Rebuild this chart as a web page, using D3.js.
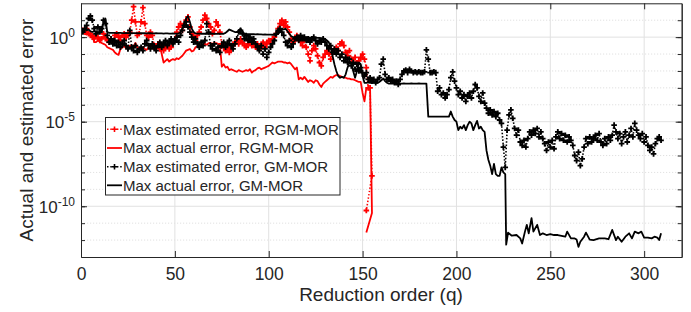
<!DOCTYPE html>
<html><head><meta charset="utf-8">
<script src="https://cdn.jsdelivr.net/npm/d3@7"></script>
<style>
body{margin:0;background:#fff}
text{font-family:"Liberation Sans",Arial,Helvetica,sans-serif;fill:#262626}
</style>
</head><body>
<svg id="c" width="691" height="312"></svg>
<script>
// ---------------- DATA ----------------
const xTicks = [0, 50, 100, 150, 200, 250, 300];
const yMajorExp = [0, -5, -10];
const yMinorExp = [1, 0, -1, -2, -3, -4, -5, -6, -7, -8, -9, -10, -11, -12];
const seriesNames = ["Max estimated error, RGM-MOR", "Max actual error, RGM-MOR",
                     "Max estimated error, GM-MOR", "Max actual error, GM-MOR"];

// RGM-MOR estimated error (log10 values), q = 1..154, then two tail points
const rgmEstQ = d3.range(1, 155).concat([155, 152]);
const rgmEstExp = [
 0.4,0.3,0.5,0.2,0.1,0.0,-0.1,0.1,0.0,-0.2,
 -0.1,0.2,0.0,-0.2,-0.3,-0.1,-0.3,0.1,0.2,0.0,
 -0.2,0.1,0.2,0.0,0.1,0.3,1.0,1.8,0.9,0.1,
 0.2,0.9,1.75,0.8,0.1,0.0,0.3,0.1,-0.5,-0.6,
 -0.4,-0.7,-0.5,-0.8,-0.6,-0.5,-0.7,-0.6,-0.3,-0.1,
 0.3,0.6,0.8,0.4,0.7,1.0,1.2,0.6,0.2,0.0,
 -0.2,0.1,0.3,0.6,1.0,1.3,1.1,0.8,0.6,0.2,
 0.4,0.9,0.7,0.3,-0.4,-0.6,-0.8,-0.6,-0.9,-0.7,
 -0.5,-0.3,-0.2,-0.4,-0.1,-0.3,-0.5,-0.6,-0.4,-0.2,
 -0.5,-0.3,-0.6,-0.4,-0.7,-0.5,-0.3,-0.6,-0.4,-0.2,
 -0.4,-0.1,0.0,0.2,0.5,0.8,1.0,0.7,0.9,0.6,
 0.3,-0.1,-0.3,-0.2,0.1,-0.1,-0.3,-0.5,-0.2,-0.6,
 -1.0,-1.4,-0.8,-0.5,-0.7,-1.1,-1.5,-1.7,-1.2,-1.0,
 -0.8,-1.0,-1.3,-0.9,-0.7,-0.6,-0.8,-0.4,-0.3,-0.5,
 -0.9,-1.1,-0.8,-1.3,-1.5,-1.2,-1.6,-1.4,-1.2,-1.0,
 -1.3,-1.8,-3.0,-3.0,
 -8.2,-10.25];

// RGM-MOR actual error (log10 values)
const rgmActQ = d3.range(1, 155).concat([155, 152]);
const rgmActExp = [
 0.25,0.2,0.15,0.2,0.25,0.2,-0.3,-0.3,-0.2,-0.25,
 -0.35,-0.4,-0.45,-0.6,-0.65,-0.7,-0.75,-0.9,-1.0,-1.05,
 -0.7,-0.6,-0.55,-0.65,-0.6,-0.5,-0.55,-0.55,-0.35,-0.6,
 -0.75,-0.65,-0.6,-0.7,-0.75,-0.6,-0.45,-0.6,-0.75,-0.6,
 -0.5,-0.45,-1.0,-1.5,-1.4,-1.3,-1.45,-1.35,-1.3,-1.35,
 -1.25,-1.3,-1.2,-1.1,-0.95,-0.8,-0.75,-0.7,-0.85,-0.8,
 -0.6,-0.55,-0.5,-0.5,-0.45,-0.4,-0.45,-0.35,-0.35,-0.4,
 -0.35,-0.35,-0.4,-0.45,-1.75,-1.6,-1.8,-1.75,-1.95,-1.9,
 -1.95,-2.0,-2.05,-1.95,-2.0,-2.05,-2.0,-1.95,-2.0,-1.9,
 -2.1,-2.0,-1.95,-1.85,-1.8,-1.9,-1.85,-1.8,-1.75,-1.7,
 -1.6,-1.5,-1.55,-1.5,-1.45,-1.45,-1.45,-1.5,-1.5,-1.55,
 -1.5,-1.6,-1.75,-1.9,-1.8,-2.5,-2.4,-2.5,-2.35,-2.5,
 -2.65,-2.55,-2.6,-2.7,-2.55,-2.6,-2.8,-2.95,-2.75,-2.65,
 -2.55,-2.45,-2.35,-2.4,-2.3,-2.25,-2.25,-2.3,-2.35,-2.4,
 -2.4,-2.45,-2.45,-2.5,-2.5,-2.55,-2.6,-2.65,-2.65,-3.3,
 -3.8,-3.0,-3.05,-3.0,
 -10.4,-11.55];

// GM-MOR estimated error (log10 values), q = 1..309
const gmEstQ = d3.range(1, 310);
const gmEstExp = [
 0.3,0.5,0.7,1.1,1.25,1.0,0.5,0.2,0.6,0.3,
 0.5,1.0,0.8,0.1,-0.3,-0.1,-0.4,-0.2,-0.5,-0.3,
 -0.6,-0.4,-0.2,-0.5,-0.7,0.4,-0.6,-0.8,-0.5,-0.9,
 -0.7,-0.6,-0.8,-0.4,-0.2,-0.5,-0.7,-0.4,-0.6,-0.8,
 -0.5,-0.3,-0.6,-0.4,-0.2,-0.5,-0.3,-0.1,-0.4,-0.2,
 0.0,-0.3,0.1,0.4,0.7,0.9,0.6,0.3,0.0,-0.3,
 -0.1,-0.4,-0.6,-0.3,-0.5,-0.2,0.8,0.3,-0.5,-0.7,
 -0.4,-0.8,-0.6,-0.9,-0.5,-0.3,-0.6,-0.4,-0.2,-0.5,
 -0.7,-0.4,-0.1,0.3,0.4,0.2,-0.1,0.1,-0.2,0.0,
 -0.3,-0.1,-0.4,-0.6,-0.8,-0.5,-1.0,-0.7,-1.2,-0.9,
 -0.6,-0.4,-0.2,0.2,0.4,0.5,0.3,0.1,-0.3,-0.5,
 -0.2,-0.6,-0.4,-0.1,0.0,-0.2,0.1,-0.1,0.0,-0.2,
 -0.1,-0.3,-0.1,0.0,-0.2,-0.4,-0.2,-0.3,-0.1,-0.3,
 -0.5,-0.7,-0.5,-0.9,-0.7,-1.0,-0.8,-1.2,-1.0,-1.4,
 -1.2,-1.5,-1.3,-1.7,-1.5,-1.9,-1.6,-2.0,-1.8,-2.1,
 -2.3,-2.1,-2.5,-2.4,-2.6,-2.5,-2.7,-2.5,-2.4,-1.6,
 -1.3,-2.2,-2.5,-2.4,-2.6,-2.5,-2.7,-2.6,-2.8,-2.5,
 -2.2,-2.0,-1.95,-2.1,-1.9,-2.0,-2.1,-2.05,-2.1,-2.05,
 -2.1,-2.1,-2.05,-0.75,-1.3,-2.1,-2.1,-2.05,-2.1,-3.2,
 -3.0,-3.4,-3.3,-3.6,-3.4,-3.1,-2.4,-2.05,-2.6,-3.0,
 -3.4,-3.2,-3.6,-3.4,-3.8,-3.5,-3.3,-3.6,-3.2,-2.8,
 -3.0,-3.5,-3.8,-3.3,-3.9,-4.2,-4.5,-4.3,-4.6,-4.4,
 -4.7,-4.5,-4.9,-5.1,-6.5,-7.7,-5.5,-4.6,-4.3,-4.8,
 -5.4,-5.8,-5.5,-6.2,-6.4,-6.1,-6.5,-6.0,-5.6,-5.8,
 -5.5,-5.7,-5.4,-5.9,-5.6,-6.0,-6.3,-6.7,-6.2,-6.5,
 -6.1,-6.6,-5.9,-5.6,-6.0,-5.7,-6.1,-5.8,-6.2,-5.9,
 -6.1,-6.4,-7.0,-7.3,-6.8,-7.6,-7.2,-6.5,-6.0,-6.3,
 -5.9,-6.2,-6.0,-5.8,-6.1,-5.7,-6.2,-6.4,-6.0,-6.3,
 -5.9,-6.1,-5.8,-5.2,-5.6,-6.0,-5.7,-6.3,-5.9,-5.6,
 -6.2,-5.8,-5.4,-5.9,-5.1,-5.5,-5.8,-6.0,-5.7,-6.2,
 -5.9,-6.4,-6.7,-6.5,-6.9,-6.3,-6.0,-5.9,-6.1];

// GM-MOR actual error (log10 values)
const gmActTailQ = [226.5,227.5,229.5,232,234,235,236.5,237.5,238.5,240,241,243,244.5,246,248,250,252,254,256,258,
 259,261,263,264,265,266,268,269,271,273,276,279,281,283,285,286,288,290,292,293.5,295,297,298.5,300,302,304,305.5,307,308,309];
const gmActQ = d3.range(1, 227).concat(gmActTailQ);
const gmActExp = [
 0.45,0.5,0.4,0.45,0.35,0.3,0.35,0.3,0.3,0.25,
 0.3,0.9,1.1,0.3,0.25,0.25,0.25,0.25,0.24,0.25,
 0.25,0.24,0.24,0.25,0.24,0.24,0.23,0.24,0.24,0.23,
 0.23,0.24,0.23,0.23,0.22,0.23,0.23,0.22,0.22,0.23,
 0.22,0.22,0.22,0.21,0.22,0.22,0.21,0.21,0.22,0.21,
 0.21,0.22,0.3,0.5,0.8,1.1,1.25,0.9,0.5,0.3,
 0.22,0.21,0.21,0.2,0.21,0.2,0.2,0.21,0.2,0.2,
 0.2,0.19,0.2,0.2,0.19,0.2,0.25,0.35,0.45,0.4,
 0.35,0.3,0.3,0.4,0.5,0.35,0.18,0.18,0.17,0.18,
 0.17,0.17,0.16,0.17,0.16,0.16,0.15,0.16,0.15,0.15,
 0.15,0.14,0.15,0.14,0.2,0.3,0.5,0.45,0.5,0.35,
 0.2,0.05,0.0,0.0,0.01,0.0,-0.01,0.0,-0.01,-0.02,
 -0.02,-0.03,-0.02,-0.03,-0.04,-0.05,-0.05,-0.06,-0.08,-0.1,
 -0.2,-0.3,-0.6,-1.1,-1.6,-2.0,-2.3,-2.4,-2.35,-2.4,
 -2.2,-1.8,-1.5,-1.6,-2.0,-2.4,-2.0,-1.5,-1.6,-2.3,
 -2.7,-2.7,-2.68,-2.7,-2.7,-2.68,-2.7,-2.7,-2.65,-2.55,
 -2.45,-2.6,-2.7,-2.75,-2.75,-2.74,-2.75,-2.75,-2.74,-2.75,
 -2.75,-2.74,-2.75,-2.75,-2.75,-2.74,-2.75,-2.75,-2.75,-2.74,
 -2.75,-2.75,-2.75,-2.75,-4.7,-4.7,-4.7,-4.7,-4.7,-4.7,
 -4.7,-4.7,-4.7,-4.7,-4.7,-4.7,-4.4,-4.7,-4.9,-5.0,
 -5.5,-5.3,-5.4,-5.2,-5.5,-5.2,-5.0,-5.1,-5.5,-5.2,
 -4.95,-5.4,-5.3,-5.5,-5.6,-6.7,-7.25,-7.6,-8.1,-7.5,
 -8.1,-8.2,-8.2,-7.7,-8.0,-8.1,
 -12.27,-11.56,-11.74,-11.7,-11.9,-12.2,-11.5,-11.1,-11.6,-10.7,-11.5,-11.1,-11.7,-11.6,-11.7,-11.65,-11.7,-11.7,-11.75,-11.8,
 -11.5,-11.9,-11.9,-11.97,-12.4,-12.1,-11.8,-11.56,-11.97,-12.0,-11.9,-11.9,-11.95,-11.4,-12.0,-11.8,-12.1,-11.8,-11.6,-11.9,
 -11.5,-11.6,-11.5,-11.85,-11.85,-11.9,-11.8,-11.85,-12.0,-11.6];

// ---------------- CHART ----------------
const svg = d3.select('#c');
const X0 = 81, X1 = 681.7, YB = 257, YT = 3.3;
const x = d3.scaleLinear().domain([0, 320]).range([X0, X1]);
const y = d3.scaleLog().domain([1e-13, 1e2]).range([YB, YT]);
const AX = '#262626';

const pts = (qs, es) => qs.map((q, i) => [q, Math.pow(10, es[i])]);

// grid
const grid = svg.append('g');
grid.selectAll('line.ymin').data(yMinorExp.filter(e => !yMajorExp.includes(e))).join('line')
  .attr('x1', X0).attr('x2', X1).attr('y1', d => y(Math.pow(10, d))).attr('y2', d => y(Math.pow(10, d)))
  .attr('stroke', '#d4d4d4').attr('stroke-width', 0.7).attr('stroke-dasharray', '1.2,1.8');
grid.selectAll('line.ymaj').data(yMajorExp).join('line')
  .attr('x1', X0).attr('x2', X1).attr('y1', d => y(Math.pow(10, d))).attr('y2', d => y(Math.pow(10, d)))
  .attr('stroke', '#e1e1e1').attr('stroke-width', 1);
grid.selectAll('line.x').data(xTicks.slice(1)).join('line')
  .attr('x1', d => x(d)).attr('x2', d => x(d)).attr('y1', YT).attr('y2', YB)
  .attr('stroke', '#e1e1e1').attr('stroke-width', 1);

// clip
svg.append('defs').append('clipPath').attr('id', 'clip').append('rect')
  .attr('x', X0).attr('y', YT).attr('width', X1 - X0).attr('height', YB - YT);
const plot = svg.append('g').attr('clip-path', 'url(#clip)');
const line = d3.line().x(d => x(d[0])).y(d => y(d[1]));
const plusPath = (data, r) => data.map(d => {
  const px = x(d[0]), py = y(d[1]);
  return `M${px - r},${py}H${px + r}M${px},${py - r}V${py + r}`;
}).join('');

function drawEst(data, color) {
  plot.append('path').attr('d', line(data)).attr('fill', 'none').attr('stroke', color)
    .attr('stroke-width', 1.6).attr('stroke-dasharray', '1.5,1.8');
  plot.append('path').attr('d', plusPath(data, 2.8)).attr('fill', 'none').attr('stroke', color)
    .attr('stroke-width', 1.8);
}
function drawAct(data, color) {
  plot.append('path').attr('d', line(data)).attr('fill', 'none').attr('stroke', color)
    .attr('stroke-width', 1.8).attr('stroke-linejoin', 'round');
}
drawEst(pts(rgmEstQ, rgmEstExp), '#ff0000');
drawAct(pts(rgmActQ, rgmActExp), '#ff0000');
drawEst(pts(gmEstQ, gmEstExp), '#000000');
drawAct(pts(gmActQ, gmActExp), '#000000');

// axes
function styleAxis(g) {
  g.selectAll('.domain').attr('stroke', AX).attr('stroke-width', 1);
  g.selectAll('.tick line').attr('stroke', AX).attr('stroke-width', 1);
}
const xb = svg.append('g').attr('transform', `translate(0,${YB})`)
  .call(d3.axisBottom(x).tickValues(xTicks).tickSizeInner(-6).tickSizeOuter(0).tickPadding(11))
  .call(styleAxis);
xb.selectAll('.tick text').attr('font-size', 17.5).attr('fill', AX)
  .style('font-family', '"Liberation Sans",Arial,sans-serif');
svg.append('g').attr('transform', `translate(0,${YT})`)
  .call(d3.axisTop(x).tickValues(xTicks).tickSizeInner(-6).tickSizeOuter(0).tickFormat(() => ''))
  .call(styleAxis);

const yVals = yMajorExp.map(e => Math.pow(10, e));
const yMinVals = yMinorExp.map(e => Math.pow(10, e));
const yl = svg.append('g').attr('transform', `translate(${X0},0)`)
  .call(d3.axisLeft(y).tickValues(yVals).tickSizeInner(-6).tickSizeOuter(0).tickFormat(() => ''))
  .call(styleAxis);
svg.append('g').attr('transform', `translate(${X0},0)`)
  .call(d3.axisLeft(y).tickValues(yMinVals).tickSizeInner(-4).tickSizeOuter(0).tickFormat(() => ''))
  .call(styleAxis);
svg.append('g').attr('transform', `translate(${X1},0)`)
  .call(d3.axisRight(y).tickValues(yVals).tickSizeInner(-6).tickSizeOuter(0).tickFormat(() => ''))
  .call(styleAxis);
svg.append('g').attr('transform', `translate(${X1},0)`)
  .call(d3.axisRight(y).tickValues(yMinVals).tickSizeInner(-4).tickSizeOuter(0).tickFormat(() => ''))
  .call(styleAxis);

// y tick labels with superscripts
yl.selectAll('.tick').each(function (d) {
  const t = d3.select(this).append('text').attr('x', -6).attr('y', 6)
    .attr('text-anchor', 'end').attr('fill', AX);
  t.append('tspan').attr('font-size', 17).text('10');
  t.append('tspan').attr('font-size', 12).attr('dy', -7).text(String(Math.round(Math.log10(d))));
});

// axis labels
svg.append('text').attr('x', 381).attr('y', 301).attr('text-anchor', 'middle')
  .attr('font-size', 19).text('Reduction order (q)');
svg.append('text').attr('transform', 'translate(33,130) rotate(-90)').attr('text-anchor', 'middle')
  .attr('font-size', 19).text('Actual and estimated error');

// legend
const lg = svg.append('g');
lg.append('rect').attr('x', 105.5).attr('y', 117.5).attr('width', 234.5).attr('height', 77.5)
  .attr('fill', '#fff').attr('stroke', AX).attr('stroke-width', 1);
const legColors = ['#ff0000', '#ff0000', '#000000', '#000000'];
const legEst = [true, false, true, false];
const legY = [129.3, 148, 166.7, 185.3];
seriesNames.forEach((name, i) => {
  const cy = legY[i];
  const l = lg.append('line').attr('x1', 107).attr('x2', 122).attr('y1', cy).attr('y2', cy)
    .attr('stroke', legColors[i]).attr('stroke-width', legEst[i] ? 1.6 : 1.8);
  if (legEst[i]) {
    l.attr('stroke-dasharray', '1.5,1.8');
    lg.append('path').attr('d', `M${114.5 - 2.8},${cy}H${114.5 + 2.8}M114.5,${cy - 2.8}V${cy + 2.8}`)
      .attr('stroke', legColors[i]).attr('stroke-width', 1.6);
  }
  lg.append('text').attr('x', 123).attr('y', cy + 5.3).attr('font-size', 15).attr('fill', '#000').text(name);
});
</script>
</body></html>
